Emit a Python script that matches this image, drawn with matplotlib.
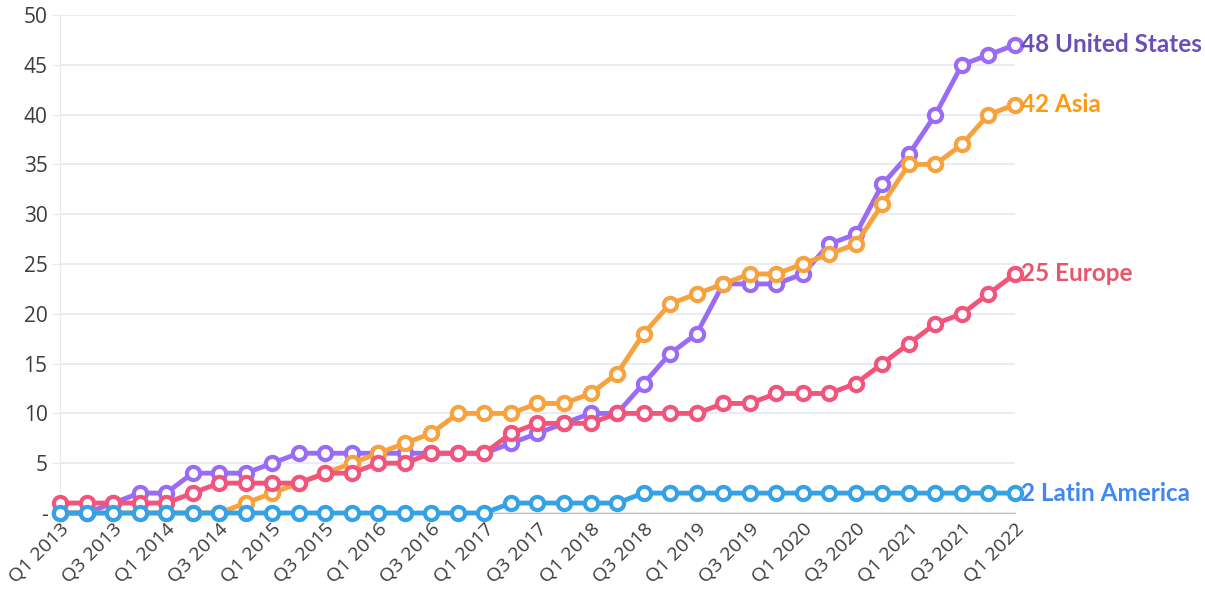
import numpy as np
import matplotlib
matplotlib.use("Agg")
import matplotlib.pyplot as plt

quarters = ["Q%d %d" % (q, y) for y in range(2013, 2023) for q in (1, 2, 3, 4)][:37]

united_states = [0, 0, 1, 2, 2, 4, 4, 4, 5, 6, 6, 6, 6, 6, 6, 6, 6, 7, 8, 9, 10, 10, 13, 16, 18,
                 23, 23, 23, 24, 27, 28, 33, 36, 40, 45, 46, 47]
asia = [0, 0, 0, 0, 0, 0, 0, 1, 2, 3, 4, 5, 6, 7, 8, 10, 10, 10, 11, 11, 12, 14, 18, 21, 22,
        23, 24, 24, 25, 26, 27, 31, 35, 35, 37, 40, 41]
europe = [1, 1, 1, 1, 1, 2, 3, 3, 3, 3, 4, 4, 5, 5, 6, 6, 6, 8, 9, 9, 9, 10, 10, 10, 10,
          11, 11, 12, 12, 12, 13, 15, 17, 19, 20, 22, 24]
latin_america = [0] * 17 + [1] * 5 + [2] * 15

end_labels = ["48 United States", "42 Asia", "25 Europe", "2 Latin America"]

# drawn bottom to top
series = [
    (united_states, end_labels[0], "#9a6cf6", "#6b4fb8"),
    (asia, end_labels[1], "#f7a23c", "#ff9a10"),
    (europe, end_labels[2], "#f2557c", "#e8566c"),
    (latin_america, end_labels[3], "#36a2e6", "#3f88f2"),
]

fig = plt.figure(figsize=(12.05, 5.96), dpi=100)
ax = fig.add_axes([60 / 1205, 83 / 596, 955 / 1205, 498 / 596])

x = np.arange(len(quarters))
for vals, txt, lc, tc in series:
    ax.plot(x, vals, color=lc, lw=3.5, marker="o", ms=9.5, mfc="white",
            mec=lc, mew=3, clip_on=False, zorder=3)
    ax.annotate(txt, (x[-1], vals[-1]), xytext=(4, 0), textcoords="offset points",
                ha="left", va="center", color=tc, fontsize=17.5, fontweight="bold",
                family="Lato", annotation_clip=False)

ax.set_xlim(0, 36)
ax.set_ylim(0, 50)
ax.set_yticks(range(0, 51, 5))
ax.set_yticklabels(["-"] + [str(v) for v in range(5, 51, 5)])
ax.set_xticks(x[::2])
ax.set_xticklabels(quarters[::2], rotation=45, ha="right", rotation_mode="anchor")

for lbl in ax.get_yticklabels() + ax.get_xticklabels():
    lbl.set_family("Open Sans")
    lbl.set_color("#3c3c3c")
for lbl in ax.get_yticklabels():
    lbl.set_fontsize(15)
for lbl in ax.get_xticklabels():
    lbl.set_fontsize(14)

ax.grid(axis="y", color="#e6e9ef", lw=1.2)
ax.set_axisbelow(True)
ax.tick_params(axis="y", length=6, color="#e6e9ef", pad=3)
ax.tick_params(axis="x", length=0, pad=5)
for s in ["top", "right"]:
    ax.spines[s].set_visible(False)
ax.spines["left"].set_color("#e6e9ef")
ax.spines["bottom"].set_color("#c0c0c0")

fig.savefig("out.png", dpi=100)
